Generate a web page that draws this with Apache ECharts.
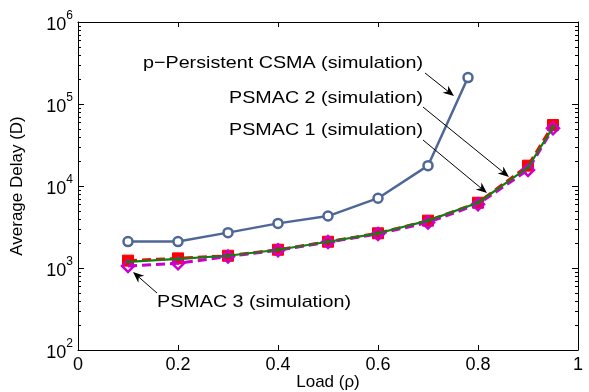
<!DOCTYPE html>
<html>
<head>
<meta charset="utf-8">
<script src="https://cdn.jsdelivr.net/npm/echarts@6/dist/echarts.min.js"></script>
<style>
  html, body { margin: 0; padding: 0; background: #fff; }
  #chart { width: 589px; height: 392px; }
</style>
</head>
<body>
<div id="chart"></div>
<script>
// load values
var loadCsma = [0.1, 0.2, 0.3, 0.4, 0.5, 0.6, 0.7, 0.78];
var loadPsmac = [0.1, 0.2, 0.3, 0.4, 0.5, 0.6, 0.7, 0.8, 0.9, 0.95];
// average delay
var csma = [2100, 2100, 2700, 3500, 4300, 7100, 17700, 210000];
var psmac1 = [1190, 1290, 1410, 1670, 2090, 2650, 3780, 6250, 16900, 52000];
var psmac2 = [1230, 1310, 1410, 1670, 2090, 2650, 3780, 6250, 17700, 55400];
var psmac3 = [1060, 1140, 1380, 1650, 2070, 2600, 3600, 6000, 15700, 50600];
// minor ticks on the log axis
var minorTicks = [];
[100, 1000, 10000, 100000].forEach(function (d) {
  for (var k = 2; k <= 9; k++) minorTicks.push(d * k);
});
// annotation arrows: [from, to] in data units
var arrows = [
  [[0.694, 239000], [0.752, 125000]],
  [[0.69, 91800], [0.862, 12900]],
  [[0.69, 36400], [0.818, 8200]],
  [[0.158, 495], [0.11, 894]]
];
var labels = ['p\u2212Persistent CSMA (simulation)', 'PSMAC 2 (simulation)', 'PSMAC 1 (simulation)', 'PSMAC 3 (simulation)'];

var font = '"Liberation Sans", Arial, Helvetica, sans-serif';

function pairs(xs, ys) {
  return xs.map(function (x, i) { return [x, ys[i]]; });
}

var chart = echarts.init(document.getElementById('chart'));

function yAxisDef(pos) {
  var left = pos === 'left';
  return {
    type: 'log',
    position: pos,
    min: 100,
    max: 1000000,
    logBase: 10,
    axisLine: { show: true, onZero: false, lineStyle: { color: '#000', width: 1 } },
    axisTick: { show: true, inside: true, length: 6, lineStyle: { color: '#000' } },
    splitLine: { show: false },
    axisLabel: left ? {
      show: true,
      margin: 5,
      fontFamily: font,
      formatter: function (v) {
        return '{b|10}{sup|' + Math.round(Math.log10(v)) + '}';
      },
      color: '#000',
      fontSize: 18,
      rich: {
        b: { fontSize: 18, fontFamily: font, color: '#000', padding: [6, 0, 0, 0] },
        sup: { fontSize: 12, fontFamily: font, color: '#000', verticalAlign: 'top', padding: [0, 0, 0, 0] }
      }
    } : { show: false },
    name: left ? 'Average Delay (D)' : '',
    nameLocation: 'middle',
    nameGap: 52,
    nameMoveOverlap: false,
    nameTextStyle: { fontFamily: font, fontSize: 17, color: '#000' }
  };
}

var option = {
  animation: false,
  backgroundColor: '#fff',
  grid: { left: 78, top: 22, right: 11, bottom: 42, containLabel: false, outerBoundsMode: 'none' },
  xAxis: [
    {
      type: 'value',
      position: 'bottom',
      min: 0, max: 1, interval: 0.2,
      axisLine: { show: true, onZero: false, lineStyle: { color: '#000', width: 1 } },
      axisTick: { show: true, inside: true, length: 5, lineStyle: { color: '#000' } },
      splitLine: { show: false },
      axisLabel: { color: '#000', fontSize: 18, fontFamily: font, margin: 6 },
      name: 'Load (\u03c1)',
      nameLocation: 'middle',
      nameGap: 24,
      nameMoveOverlap: false,
      nameTextStyle: { fontFamily: font, fontSize: 17, color: '#000' }
    },
    {
      type: 'value',
      position: 'top',
      min: 0, max: 1, interval: 0.2,
      axisLine: { show: true, onZero: false, lineStyle: { color: '#000', width: 1 } },
      axisTick: { show: true, inside: true, length: 5, lineStyle: { color: '#000' } },
      splitLine: { show: false },
      axisLabel: { show: false }
    }
  ],
  yAxis: [yAxisDef('left'), yAxisDef('right')],
  series: [
    {
      name: 'p-Persistent CSMA',
      type: 'line',
      data: pairs(loadCsma, csma),
      symbol: 'circle',
      symbolSize: 9,
      itemStyle: { color: '#fff', borderColor: '#4e6797', borderWidth: 2.5 },
      lineStyle: { color: '#4e6797', width: 2.5 },
      z: 3
    },
    {
      name: 'PSMAC 2',
      type: 'line',
      data: pairs(loadPsmac, psmac2),
      symbol: 'rect',
      symbolSize: 11,
      itemStyle: { color: '#ff0000', borderColor: '#ff0000', borderWidth: 1 },
      lineStyle: { color: '#ff0000', width: 3, type: [9, 5] },
      z: 3
    },
    {
      name: 'PSMAC 3',
      type: 'line',
      data: pairs(loadPsmac, psmac3),
      symbol: 'diamond',
      symbolSize: 12,
      itemStyle: { color: 'rgba(255,255,255,0)', borderColor: '#cc00cc', borderWidth: 2.5 },
      lineStyle: { color: '#cc00cc', width: 3, type: [9, 5] },
      z: 4
    },
    {
      name: 'PSMAC 1',
      type: 'line',
      data: pairs(loadPsmac, psmac1),
      symbol: 'circle',
      symbolSize: 3,
      itemStyle: { color: '#118011', borderColor: '#118011' },
      lineStyle: { color: '#118011', width: 2.2 },
      z: 5
    }
  ]
};

chart.setOption(option);

// minor log ticks, annotation arrows and texts
var g = [];
var xl = chart.convertToPixel({ xAxisIndex: 0 }, 0);
var xr = chart.convertToPixel({ xAxisIndex: 0 }, 1);
minorTicks.forEach(function (v) {
  var py = Math.round(chart.convertToPixel({ yAxisIndex: 0 }, v)) + 0.5;
  g.push({ type: 'line', silent: true, z: 10, shape: { x1: xl, y1: py, x2: xl + 3, y2: py }, style: { stroke: '#000', lineWidth: 1 } });
  g.push({ type: 'line', silent: true, z: 10, shape: { x1: xr, y1: py, x2: xr - 3, y2: py }, style: { stroke: '#000', lineWidth: 1 } });
});
arrows.forEach(function (a) {
  var p0 = chart.convertToPixel({ gridIndex: 0 }, a[0]);
  var p1 = chart.convertToPixel({ gridIndex: 0 }, a[1]);
  var dx = p1[0] - p0[0], dy = p1[1] - p0[1];
  var len = Math.sqrt(dx * dx + dy * dy);
  var ux = dx / len, uy = dy / len, nx = -uy, ny = ux;
  var L = 11, W = 4.5;
  var back = [p1[0] - ux * L, p1[1] - uy * L];
  g.push({ type: 'line', silent: true, z: 20, shape: { x1: p0[0], y1: p0[1], x2: p1[0] - ux * 6, y2: p1[1] - uy * 6 }, style: { stroke: '#000', lineWidth: 1 } });
  g.push({
    type: 'polygon', silent: true, z: 20,
    shape: { points: [
      [p1[0], p1[1]],
      [back[0] + nx * W, back[1] + ny * W],
      [p1[0] - ux * L * 0.7, p1[1] - uy * L * 0.7],
      [back[0] - nx * W, back[1] - ny * W]
    ] },
    style: { fill: '#000' }
  });
});
var textPos = [[143, 63], [229, 98], [229, 130], [157, 302]];
labels.forEach(function (t, i) {
  g.push({
    type: 'text', silent: true, z: 20, x: textPos[i][0], y: textPos[i][1], scaleX: 1.16,
    style: { text: t, font: '17px ' + font, fill: '#000', verticalAlign: 'middle', align: 'left' }
  });
});
chart.setOption({ graphic: g });
</script>
</body>
</html>
